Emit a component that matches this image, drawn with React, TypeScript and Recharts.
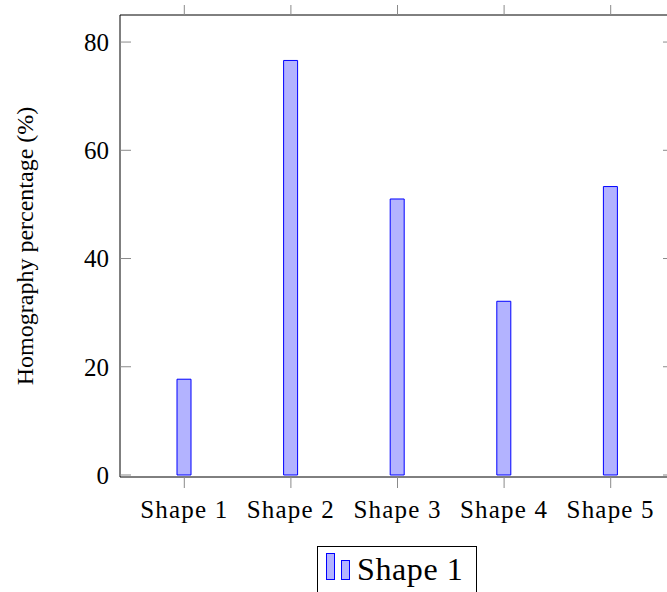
import { BarChart, Bar, XAxis, YAxis, Legend } from "recharts";

const categories = ["Shape 1", "Shape 2", "Shape 3", "Shape 4", "Shape 5"];
const homography = [17.7, 76.6, 51.0, 32.1, 53.3];
const yTicks = [0, 20, 40, 60, 80];

const data = categories.map((name, i) => ({ name, value: homography[i] }));

const serif = "'Liberation Serif', 'Times New Roman', serif";
const tickGrey = "#8a8a8a";

const noLabel = () => <g />;

function LegendBox(props: any) {
    const item = props.payload && props.payload[0];
    return (
        <svg width={160} height={50} style={{ display: "block" }}>
            <rect x={0.5} y={0.5} width={159} height={60} fill="#fff" stroke="#000" strokeWidth={1} />
            <rect x={9.5} y={7.5} width={8} height={26} fill="#b3b3ff" stroke="#0000ff" strokeWidth={1} />
            <rect x={24.5} y={14.5} width={8} height={19} fill="#b3b3ff" stroke="#0000ff" strokeWidth={1} />
            <text x={40} y={34} fontFamily={serif} fontSize={32} letterSpacing={0.6} fill="#000">
                {item ? item.value : ""}
            </text>
        </svg>
    );
}

export default function App() {
    return (
        <div style={{ position: "absolute", left: 0, top: 0, width: 667, height: 592, overflow: "hidden", background: "#fff" }}>
            <BarChart
                width={680}
                height={592}
                data={data}
                margin={{ top: 14, right: 4, bottom: 0, left: 0 }}
                barCategoryGap={0}
            >
                <XAxis
                    dataKey="name"
                    height={115}
                    padding={{ left: 11, right: 11 }}
                    tickSize={11}
                    tickMargin={12}
                    tickLine={{ stroke: tickGrey }}
                    axisLine={{ stroke: "#000" }}
                    tick={{ fill: "#000", fontFamily: serif, fontSize: 25, letterSpacing: 1.2 }}
                    interval={0}
                />
                <XAxis
                    xAxisId="top"
                    orientation="top"
                    dataKey="name"
                    height={1}
                    padding={{ left: 11, right: 11 }}
                    tickSize={10}
                    tick={noLabel}
                    tickLine={{ stroke: tickGrey }}
                    axisLine={{ stroke: "#000" }}
                    interval={0}
                />
                <YAxis
                    width={120}
                    domain={[-0.37, 85]}
                    allowDataOverflow
                    ticks={yTicks}
                    tickSize={-11}
                    tickMargin={22}
                    tickLine={{ stroke: tickGrey }}
                    axisLine={{ stroke: "#000" }}
                    tick={{ fill: "#000", fontFamily: serif, fontSize: 25 }}
                    label={{
                        value: "Homography percentage (%)",
                        angle: -90,
                        position: "center",
                        dx: -36,
                        fill: "#000",
                        fontFamily: serif,
                        fontSize: 24,
                    }}
                />
                <YAxis
                    yAxisId="right"
                    orientation="right"
                    width={1}
                    domain={[-0.37, 85]}
                    allowDataOverflow
                    ticks={yTicks}
                    tickSize={-12}
                    tick={noLabel}
                    tickLine={{ stroke: tickGrey }}
                    axisLine={false}
                />
                <Legend
                    layout="horizontal"
                    verticalAlign="middle"
                    align="center"
                    content={<LegendBox />}
                    wrapperStyle={{ top: 546, left: 317, width: 160, height: 50 }}
                />
                <Bar
                    dataKey="value"
                    name="Shape 1"
                    barSize={14}
                    fill="#b3b3ff"
                    stroke="#0000ff"
                    strokeWidth={1}
                    isAnimationActive={false}
                />
            </BarChart>
        </div>
    );
}
